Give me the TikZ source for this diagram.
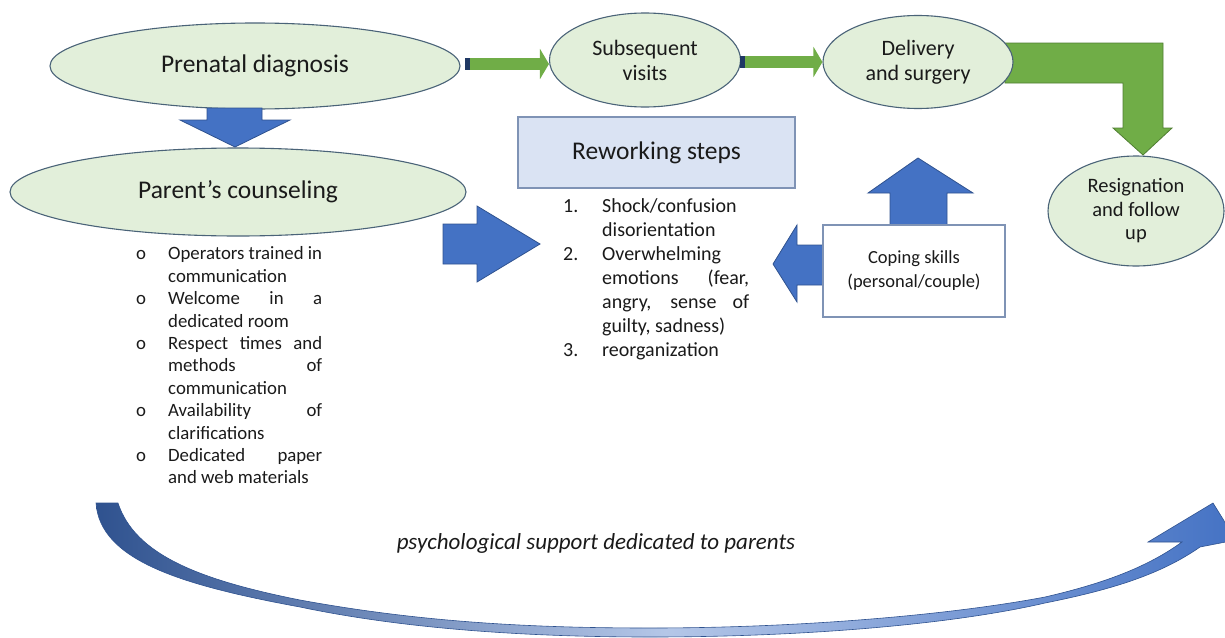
\documentclass[tikz,border=0pt]{standalone}
\usepackage{fontspec}
\setmainfont{Carlito}
\usetikzlibrary{shapes.geometric,arrows.meta}
\definecolor{ellfill}{HTML}{E2EFDA}
\definecolor{ellline}{HTML}{4A6378}
\definecolor{gfill}{HTML}{70AD47}
\definecolor{gline}{HTML}{507E32}
\definecolor{bfill}{HTML}{4472C4}
\definecolor{bline}{HTML}{2F528F}
\definecolor{rwfill}{HTML}{DAE3F3}
\definecolor{rwline}{HTML}{7F93B5}
\definecolor{txt}{HTML}{1A1A1A}
\definecolor{navy}{HTML}{1F3864}
\begin{document}
\begin{tikzpicture}[x=1pt,y=-1pt,
  ell/.style={ellipse, draw=ellline, fill=ellfill, line width=1.1pt, inner sep=0pt, align=center, text=txt},
  box/.style={rectangle, draw=rwline, line width=1.1pt, inner sep=0pt, align=center, text=txt},
  blk/.style={fill=bfill, draw=bline, line width=0.8pt, line join=miter},
  grn/.style={fill=gfill, draw=gline, line width=0.8pt, line join=miter},
  garrow/.style={draw=gfill, line width=12pt, -{Triangle[width=30pt,length=9pt]}},
  tabbox/.style={fill=navy, draw=none},
  listtext/.style={anchor=north west, inner sep=0pt, text=txt}
]
\useasboundingbox (0,0) rectangle (1225,637);

% big L-shaped green arrow (behind the ellipse)
\fill[grn] (1005,43) -- (1163,43) -- (1163,128) -- (1172,128) -- (1143,155) -- (1113,128) -- (1123,128) -- (1123,83) -- (1005,83) -- cycle;

% ellipses
\node[ell, minimum width=410pt, minimum height=86pt, font=\fontsize{25.5}{30}\selectfont] (pd) at (255,66) {Prenatal diagnosis};
\node[ell, minimum width=456pt, minimum height=88pt, font=\fontsize{25.5}{30}\selectfont] (pc) at (238,192) {Parent’s counseling};
\node[ell, minimum width=191pt, minimum height=94pt, font=\fontsize{22}{25}\selectfont] (sv) at (645,60) {Subsequent\\visits};
\node[ell, minimum width=190pt, minimum height=93pt, font=\fontsize{22}{25}\selectfont] (ds) at (918,62) {Delivery\\and surgery};
\node[ell, minimum width=176pt, minimum height=110pt, font=\fontsize{20.5}{23.5}\selectfont] (rf) at (1136,211) {Resignation\\and follow\\up};

% green thin arrows
\coordinate (g1) at (470,64);
\coordinate (g2) at (745,62);
\draw[garrow] (g1) -- (sv.west |- g1);
\fill[tabbox] (465,58) rectangle (470,70);
\draw[garrow] (g2) -- (ds.west |- g2);
\fill[tabbox] (740,56) rectangle (745,68);

% reworking box
\node[box, fill=rwfill, minimum width=277pt, minimum height=71pt, font=\fontsize{25.5}{30}\selectfont] (rw) at (656.5,152.5) {Reworking steps};

% blue block arrows
\fill[blk] (207,108) -- (262,108) -- (262,120) -- (290,120) -- (235,147) -- (180,120) -- (207,120) -- cycle;
\fill[blk] (443,224) -- (477,224) -- (477,206) -- (540,244) -- (477,282) -- (477,264) -- (443,264) -- cycle;
\fill[blk] (890,228) -- (890,193) -- (868,193) -- (918,158) -- (973,193) -- (947,193) -- (947,228) -- cycle;
\fill[blk] (826,245) -- (797,245) -- (797,225) -- (773,264) -- (797,302) -- (797,285) -- (826,285) -- cycle;

% coping box
\node[box, fill=white, minimum width=182pt, minimum height=92pt, font=\fontsize{18.5}{24}\selectfont] (cs) at (914,271) {Coping skills\\(personal/couple)};

% numbered list
\node[listtext, font=\fontsize{20}{24}\selectfont] (steps) at (563,195) {%
\begin{tabular}{@{}l@{}l@{}}
\makebox[39pt][l]{1.} & Shock/confusion\\
 & disorientation\\
\makebox[39pt][l]{2.} & Overwhelming\\
 & \makebox[147pt][s]{emotions (fear,}\\
 & \makebox[147pt][s]{angry, sense of}\\
 & guilty, sadness)\\
\makebox[39pt][l]{3.} & reorganization
\end{tabular}};

% bullet list
\node[listtext, font=\fontsize{18.8}{22.4}\selectfont] (bullets) at (136,244) {%
\begin{tabular}{@{}l@{}l@{}}
\makebox[32pt][l]{o} & Operators trained in\\
 & communication\\
\makebox[32pt][l]{o} & \makebox[154pt][s]{Welcome in a}\\
 & dedicated room\\
\makebox[32pt][l]{o} & \makebox[154pt][s]{Respect times and}\\
 & \makebox[154pt][s]{methods of}\\
 & communication\\
\makebox[32pt][l]{o} & \makebox[154pt][s]{Availability of}\\
 & clarifications\\
\makebox[32pt][l]{o} & \makebox[154pt][s]{Dedicated paper}\\
 & and web materials
\end{tabular}};

% curved arrow at the bottom
\path[draw=bline, line width=0.6pt, left color=bline, right color=bfill, middle color=bfill!40!white]
  (96,503) -- (118,503)
  .. controls (135,555) and (200,580) .. (300,600)
  .. controls (420,622) and (530,628) .. (650,628)
  .. controls (800,628) and (950,615) .. (1045,597)
  .. controls (1110,582) and (1150,565) .. (1182,542)
  -- (1148,542) -- (1213,503) -- (1236,540) -- (1200,547)
  .. controls (1160,575) and (1110,590) .. (1045,603)
  .. controls (950,625) and (800,637) .. (650,637)
  .. controls (520,637) and (400,628) .. (300,607)
  .. controls (180,585) and (100,560) .. (96,503) -- cycle;

\node[font=\itshape\fontsize{23}{27}\selectfont, text=txt] (ps) at (596,543) {psychological support dedicated to parents};
\end{tikzpicture}
\end{document}
